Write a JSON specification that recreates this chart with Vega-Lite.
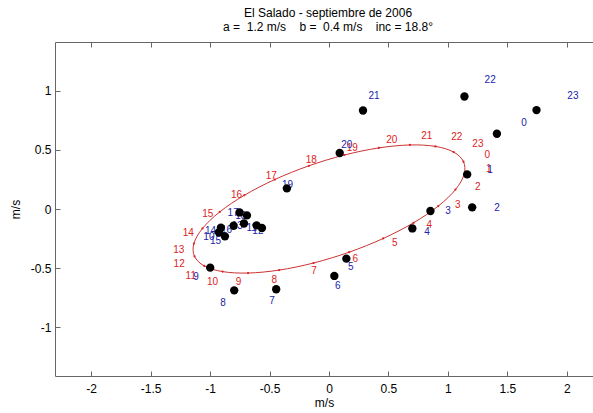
{
  "$schema": "https://vega.github.io/schema/vega-lite/v6.json",
  "width": 538,
  "height": 334,
  "autosize": {"type": "none"},
  "padding": {"left": 55, "top": 42, "right": 0, "bottom": 37},
  "background": "white",
  "config": {
    "view": {"stroke": "#666666", "strokeWidth": 1},
    "font": "Liberation Sans",
    "axis": {"grid": false, "domain": false, "tickColor": "#666666", "tickSize": -5, "labelColor": "black", "labelFontSize": 12, "labelFont": "Liberation Sans", "titleFont": "Liberation Sans", "titleFontSize": 12, "titleFontWeight": "normal", "titleColor": "black"}
  },
  "title": {
    "text": ["El Salado - septiembre de 2006", "a =\u00a0\u00a01.2 m/s\u00a0\u00a0\u00a0\u00a0b =\u00a0\u00a00.4 m/s\u00a0\u00a0\u00a0\u00a0inc = 18.8°"],
    "fontSize": 12, "fontWeight": "normal", "font": "Liberation Sans", "color": "black", "anchor": "middle", "offset": 8, "lineHeight": 14, "dx": 4
  },
  "datasets": {
    "ellipse": [
      {"h": 0, "ex": 1.1308, "ey": 0.3997, "lx": 1.332, "ly": 0.456},
      {"h": 1, "ex": 1.1359, "ey": 0.2916, "lx": 1.344, "ly": 0.338},
      {"h": 2, "ex": 1.0635, "ey": 0.1637, "lx": 1.252, "ly": 0.188},
      {"h": 3, "ex": 0.9187, "ey": 0.0246, "lx": 1.083, "ly": 0.030},
      {"h": 4, "ex": 0.7113, "ey": -0.1162, "lx": 0.844, "ly": -0.132},
      {"h": 5, "ex": 0.4554, "ey": -0.2490, "lx": 0.553, "ly": -0.287},
      {"h": 6, "ex": 0.1685, "ey": -0.3649, "lx": 0.221, "ly": -0.419},
      {"h": 7, "ex": -0.1299, "ey": -0.4559, "lx": -0.126, "ly": -0.527},
      {"h": 8, "ex": -0.4195, "ey": -0.5159, "lx": -0.460, "ly": -0.597},
      {"h": 9, "ex": -0.6805, "ey": -0.5407, "lx": -0.760, "ly": -0.619},
      {"h": 10, "ex": -0.8951, "ey": -0.5286, "lx": -0.979, "ly": -0.616},
      {"h": 11, "ex": -1.0486, "ey": -0.4805, "lx": -1.162, "ly": -0.563},
      {"h": 12, "ex": -1.1308, "ey": -0.3997, "lx": -1.260, "ly": -0.464},
      {"h": 13, "ex": -1.1359, "ey": -0.2916, "lx": -1.263, "ly": -0.349},
      {"h": 14, "ex": -1.0635, "ey": -0.1637, "lx": -1.184, "ly": -0.203},
      {"h": 15, "ex": -0.9187, "ey": -0.0246, "lx": -1.019, "ly": -0.042},
      {"h": 16, "ex": -0.7113, "ey": 0.1162, "lx": -0.777, "ly": 0.121},
      {"h": 17, "ex": -0.4554, "ey": 0.2490, "lx": -0.486, "ly": 0.275},
      {"h": 18, "ex": -0.1685, "ey": 0.3649, "lx": -0.149, "ly": 0.410},
      {"h": 19, "ex": 0.1299, "ey": 0.4559, "lx": 0.196, "ly": 0.515},
      {"h": 20, "ex": 0.4195, "ey": 0.5159, "lx": 0.528, "ly": 0.585},
      {"h": 21, "ex": 0.6805, "ey": 0.5407, "lx": 0.822, "ly": 0.613},
      {"h": 22, "ex": 0.8951, "ey": 0.5286, "lx": 1.075, "ly": 0.604},
      {"h": 23, "ex": 1.0486, "ey": 0.4805, "lx": 1.252, "ly": 0.549}
    ],
    "obs": [
      {"h": 0, "x": 1.412, "y": 0.635, "lx": 1.641, "ly": 0.726},
      {"h": 1, "x": 1.162, "y": 0.292, "lx": 1.355, "ly": 0.332},
      {"h": 2, "x": 1.204, "y": 0.014, "lx": 1.412, "ly": 0.008},
      {"h": 3, "x": 0.853, "y": -0.017, "lx": 1.002, "ly": -0.020},
      {"h": 4, "x": 0.701, "y": -0.164, "lx": 0.825, "ly": -0.197},
      {"h": 5, "x": 0.146, "y": -0.419, "lx": 0.183, "ly": -0.489},
      {"h": 6, "x": 0.045, "y": -0.565, "lx": 0.073, "ly": -0.653},
      {"h": 7, "x": -0.444, "y": -0.678, "lx": -0.480, "ly": -0.774},
      {"h": 8, "x": -0.797, "y": -0.687, "lx": -0.892, "ly": -0.793},
      {"h": 9, "x": -0.999, "y": -0.495, "lx": -1.119, "ly": -0.574},
      {"h": 10, "x": -0.926, "y": -0.197, "lx": -1.010, "ly": -0.236},
      {"h": 11, "x": -0.609, "y": -0.138, "lx": -0.650, "ly": -0.159},
      {"h": 12, "x": -0.564, "y": -0.160, "lx": -0.598, "ly": -0.184},
      {"h": 13, "x": -0.715, "y": -0.122, "lx": -0.771, "ly": -0.140},
      {"h": 14, "x": -0.909, "y": -0.158, "lx": -0.996, "ly": -0.189},
      {"h": 15, "x": -0.875, "y": -0.231, "lx": -0.954, "ly": -0.273},
      {"h": 16, "x": -0.802, "y": -0.141, "lx": -0.861, "ly": -0.175},
      {"h": 17, "x": -0.752, "y": -0.029, "lx": -0.806, "ly": -0.034},
      {"h": 18, "x": -0.690, "y": -0.054, "lx": -0.741, "ly": -0.062},
      {"h": 19, "x": -0.354, "y": 0.174, "lx": -0.348, "ly": 0.199},
      {"h": 20, "x": 0.090, "y": 0.473, "lx": 0.149, "ly": 0.543},
      {"h": 21, "x": 0.286, "y": 0.832, "lx": 0.379, "ly": 0.950},
      {"h": 22, "x": 1.139, "y": 0.950, "lx": 1.355, "ly": 1.085},
      {"h": 23, "x": 1.745, "y": 0.835, "lx": 2.051, "ly": 0.956}
    ]
  },
  "resolve": {"axis": {"x": "independent", "y": "independent"}},
  "layer": [
    {
      "mark": {"type": "rule", "color": "#777777", "strokeWidth": 1},
      "encoding": {
        "x": {"datum": 0, "type": "quantitative",
          "scale": {"domain": [-2.304, 2.22], "nice": false, "zero": false},
          "axis": {"orient": "bottom", "values": [-2, -1.5, -1, -0.5, 0, 0.5, 1, 1.5, 2], "labelExpr": "'' + datum.value", "labelPadding": 12, "title": "m/s", "titlePadding": 3}
        }
      }
    },
    {
      "mark": {"type": "rule", "color": "#777777", "strokeWidth": 1},
      "encoding": {
        "y": {"datum": 0, "type": "quantitative",
          "scale": {"domain": [-1.41, 1.41], "nice": false, "zero": false},
          "axis": {"orient": "left", "values": [-1, -0.5, 0, 0.5, 1], "labelExpr": "'' + datum.value", "labelPadding": 9, "title": "m/s", "titlePadding": 8}
        }
      }
    },
    {
      "data": {"name": "ellipse"},
      "mark": {"type": "line", "color": "#cc3333", "strokeWidth": 1, "interpolate": "cardinal-closed"},
      "encoding": {
        "x": {"field": "ex", "type": "quantitative", "axis": {"orient": "top", "values": [-2, -1.5, -1, -0.5, 0, 0.5, 1, 1.5, 2], "labels": false, "title": null}},
        "y": {"field": "ey", "type": "quantitative", "axis": null},
        "order": {"field": "h"}
      }
    },
    {
      "data": {"name": "ellipse"},
      "mark": {"type": "circle", "color": "#dd2222", "size": 5, "opacity": 1},
      "encoding": {
        "x": {"field": "ex", "type": "quantitative", "axis": null},
        "y": {"field": "ey", "type": "quantitative", "axis": null}
      }
    },
    {
      "data": {"name": "ellipse"},
      "mark": {"type": "text", "color": "#dd2222", "fontSize": 10, "font": "Liberation Sans", "align": "center", "baseline": "middle"},
      "encoding": {
        "x": {"field": "lx", "type": "quantitative", "axis": null},
        "y": {"field": "ly", "type": "quantitative", "axis": null},
        "text": {"field": "h", "type": "nominal"}
      }
    },
    {
      "data": {"name": "obs"},
      "mark": {"type": "text", "color": "#2222aa", "fontSize": 10, "font": "Liberation Sans", "align": "center", "baseline": "middle"},
      "encoding": {
        "x": {"field": "lx", "type": "quantitative", "axis": null},
        "y": {"field": "ly", "type": "quantitative", "axis": null},
        "text": {"field": "h", "type": "nominal"}
      }
    },
    {
      "data": {"name": "obs"},
      "mark": {"type": "circle", "color": "black", "size": 70, "opacity": 1},
      "encoding": {
        "x": {"field": "x", "type": "quantitative", "axis": null},
        "y": {"field": "y", "type": "quantitative", "axis": null}
      }
    }
  ]
}
